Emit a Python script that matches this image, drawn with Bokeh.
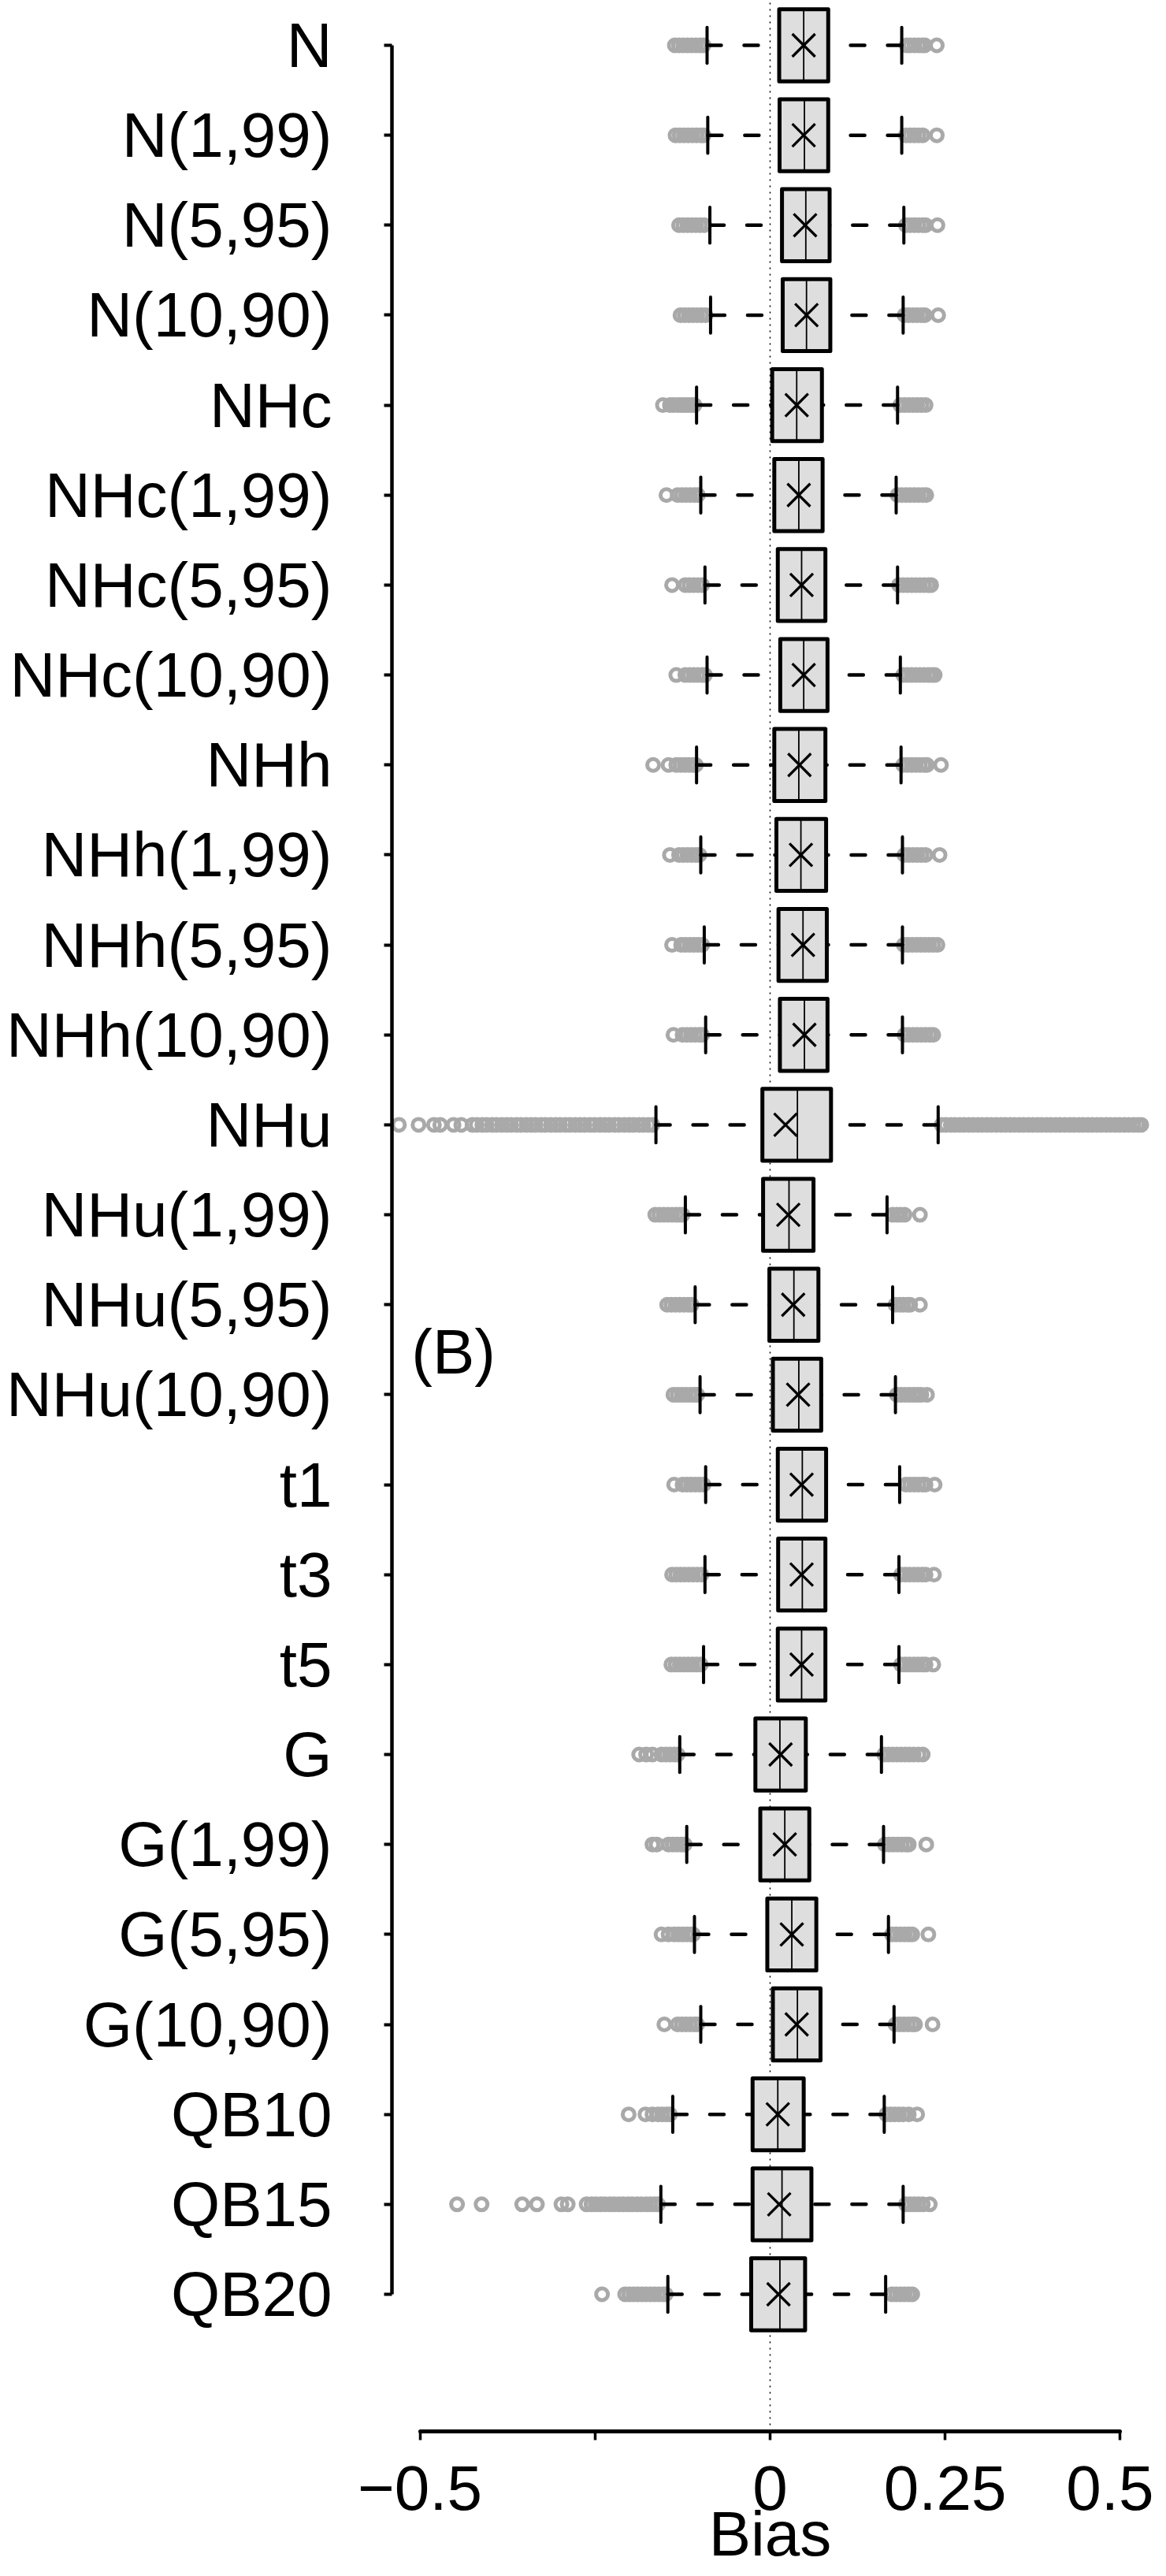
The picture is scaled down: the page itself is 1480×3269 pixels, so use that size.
from bokeh.plotting import figure
from bokeh.models import Range1d, FixedTicker, Label
from bokeh.embed import file_html
from bokeh.resources import INLINE

# ---------------- data (top row first) ----------------
labels = ["N", "N(1,99)", "N(5,95)", "N(10,90)", "NHc", "NHc(1,99)", "NHc(5,95)",
          "NHc(10,90)", "NHh", "NHh(1,99)", "NHh(5,95)", "NHh(10,90)", "NHu",
          "NHu(1,99)", "NHu(5,95)", "NHu(10,90)", "t1", "t3", "t5", "G", "G(1,99)",
          "G(5,95)", "G(10,90)", "QB10", "QB15", "QB20"]

whisker_low = [-0.090, -0.089, -0.086, -0.085, -0.105, -0.099, -0.093, -0.090, -0.105,
               -0.099, -0.094, -0.092, -0.163, -0.121, -0.107, -0.100, -0.092, -0.093,
               -0.095, -0.129, -0.119, -0.108, -0.099, -0.139, -0.156, -0.146]
q1 = [0.013, 0.0135, 0.017, 0.018, 0.003, 0.006, 0.011, 0.0145, 0.006, 0.009, 0.012,
      0.014, -0.011, -0.010, -0.001, 0.004, 0.011, 0.0115, 0.011, -0.021, -0.014,
      -0.004, 0.004, -0.025, -0.025, -0.027]
median = [0.048, 0.049, 0.051, 0.052, 0.038, 0.041, 0.045, 0.048, 0.041, 0.044, 0.047,
          0.049, 0.039, 0.027, 0.034, 0.041, 0.046, 0.046, 0.045, 0.014, 0.021, 0.031,
          0.039, 0.011, 0.017, 0.014]
q3 = [0.083, 0.083, 0.085, 0.086, 0.074, 0.075, 0.079, 0.082, 0.079, 0.080, 0.081,
      0.082, 0.087, 0.062, 0.069, 0.073, 0.080, 0.079, 0.079, 0.051, 0.056, 0.066,
      0.072, 0.048, 0.059, 0.050]
whisker_high = [0.188, 0.188, 0.191, 0.190, 0.182, 0.180, 0.182, 0.186, 0.187, 0.189,
                0.189, 0.189, 0.240, 0.167, 0.175, 0.179, 0.185, 0.184, 0.184, 0.159,
                0.162, 0.169, 0.177, 0.163, 0.190, 0.165]
mean = [0.048, 0.048, 0.050, 0.052, 0.038, 0.041, 0.045, 0.048, 0.042, 0.044, 0.047,
        0.049, 0.022, 0.026, 0.033, 0.040, 0.045, 0.045, 0.045, 0.015, 0.021, 0.031,
        0.038, 0.011, 0.013, 0.012]

outliers_low = [
    [-0.136, -0.130, -0.124, -0.118, -0.112, -0.106, -0.100, -0.095],
    [-0.135, -0.129, -0.123, -0.117, -0.111, -0.105, -0.099, -0.095],
    [-0.130, -0.124, -0.118, -0.112, -0.106, -0.100, -0.094],
    [-0.128, -0.122, -0.116, -0.110, -0.104, -0.098, -0.092],
    [-0.153, -0.143, -0.138, -0.132, -0.127, -0.122, -0.117, -0.112, -0.108],
    [-0.148, -0.132, -0.126, -0.120, -0.114, -0.108, -0.103],
    [-0.140, -0.121, -0.115, -0.109, -0.103, -0.097],
    [-0.134, -0.121, -0.115, -0.109, -0.103, -0.097, -0.093],
    [-0.167, -0.145, -0.134, -0.128, -0.122, -0.116, -0.110, -0.106],
    [-0.143, -0.130, -0.124, -0.118, -0.112, -0.106, -0.101],
    [-0.140, -0.127, -0.121, -0.115, -0.109, -0.103, -0.097],
    [-0.138, -0.125, -0.119, -0.113, -0.107, -0.101, -0.097],
    [-0.530, -0.502, -0.480, -0.471, -0.452, -0.441, -0.425, -0.419, -0.411, -0.405,
     -0.397, -0.391, -0.383, -0.376, -0.370, -0.362, -0.356, -0.348, -0.341, -0.335,
     -0.327, -0.321, -0.313, -0.306, -0.300, -0.292, -0.286, -0.278, -0.271, -0.265,
     -0.257, -0.251, -0.243, -0.236, -0.230, -0.222, -0.216, -0.208, -0.201, -0.195,
     -0.187, -0.181, -0.174, -0.168],
    [-0.164, -0.158, -0.152, -0.146, -0.140, -0.134, -0.129, -0.125],
    [-0.147, -0.141, -0.135, -0.129, -0.123, -0.117, -0.112],
    [-0.138, -0.132, -0.126, -0.120, -0.114, -0.108, -0.104],
    [-0.137, -0.125, -0.119, -0.113, -0.107, -0.101, -0.095],
    [-0.140, -0.134, -0.128, -0.122, -0.116, -0.110, -0.104, -0.098],
    [-0.141, -0.135, -0.129, -0.123, -0.117, -0.111, -0.105, -0.099],
    [-0.187, -0.177, -0.168, -0.155, -0.149, -0.143, -0.137, -0.132],
    [-0.168, -0.162, -0.145, -0.139, -0.133, -0.127, -0.122],
    [-0.155, -0.145, -0.137, -0.131, -0.125, -0.119, -0.113, -0.110],
    [-0.151, -0.132, -0.126, -0.120, -0.114, -0.108, -0.104],
    [-0.202, -0.178, -0.168, -0.160, -0.154, -0.148, -0.143],
    [-0.447, -0.412, -0.354, -0.333, -0.298, -0.289, -0.262, -0.255, -0.249, -0.242,
     -0.236, -0.229, -0.223, -0.216, -0.210, -0.203, -0.197, -0.190, -0.184, -0.177,
     -0.171, -0.165, -0.160],
    [-0.240, -0.207, -0.201, -0.195, -0.189, -0.183, -0.177, -0.171, -0.165, -0.159,
     -0.153, -0.149],
]

outliers_high = [
    [0.195, 0.200, 0.206, 0.212, 0.217, 0.221, 0.238],
    [0.194, 0.200, 0.206, 0.212, 0.218, 0.238],
    [0.194, 0.200, 0.206, 0.212, 0.218, 0.222, 0.239],
    [0.192, 0.198, 0.204, 0.210, 0.216, 0.221, 0.240],
    [0.186, 0.192, 0.198, 0.204, 0.210, 0.216, 0.222],
    [0.182, 0.188, 0.194, 0.200, 0.206, 0.212, 0.218, 0.223],
    [0.184, 0.190, 0.196, 0.202, 0.208, 0.214, 0.220, 0.226, 0.230],
    [0.190, 0.196, 0.202, 0.208, 0.214, 0.220, 0.226, 0.231, 0.235],
    [0.190, 0.196, 0.202, 0.208, 0.214, 0.220, 0.224, 0.244],
    [0.192, 0.198, 0.204, 0.210, 0.216, 0.222, 0.242],
    [0.191, 0.197, 0.203, 0.209, 0.215, 0.221, 0.227, 0.233, 0.239],
    [0.192, 0.198, 0.204, 0.210, 0.216, 0.222, 0.228, 0.233],
    [0.245, 0.251, 0.258, 0.264, 0.271, 0.277, 0.284, 0.290, 0.297, 0.303, 0.310,
     0.316, 0.323, 0.330, 0.336, 0.343, 0.349, 0.356, 0.362, 0.369, 0.375, 0.382,
     0.388, 0.395, 0.401, 0.408, 0.414, 0.421, 0.428, 0.434, 0.441, 0.447, 0.454,
     0.460, 0.467, 0.473, 0.480, 0.486, 0.493, 0.499, 0.506, 0.512, 0.519, 0.525,
     0.530],
    [0.175, 0.181, 0.186, 0.192, 0.214],
    [0.179, 0.185, 0.190, 0.196, 0.200, 0.214],
    [0.181, 0.187, 0.193, 0.199, 0.205, 0.211, 0.216, 0.224],
    [0.194, 0.200, 0.206, 0.212, 0.218, 0.222, 0.235],
    [0.187, 0.193, 0.199, 0.205, 0.211, 0.217, 0.222, 0.234],
    [0.187, 0.193, 0.199, 0.205, 0.211, 0.217, 0.222, 0.233],
    [0.163, 0.169, 0.175, 0.181, 0.187, 0.193, 0.199, 0.205, 0.212, 0.218],
    [0.164, 0.170, 0.176, 0.182, 0.188, 0.194, 0.198, 0.223],
    [0.174, 0.180, 0.186, 0.192, 0.198, 0.203, 0.226],
    [0.179, 0.185, 0.191, 0.197, 0.203, 0.207, 0.232],
    [0.166, 0.172, 0.178, 0.184, 0.190, 0.198, 0.210],
    [0.194, 0.200, 0.206, 0.212, 0.218, 0.228],
    [0.174, 0.180, 0.186, 0.192, 0.198, 0.203],
]

x_ticks = [-0.5, -0.25, 0, 0.25, 0.5]
x_tick_labels = ["\u22120.5", "", "0", "0.25", "0.5"]
x_title = "Bias"
panel_tag = "(B)"

# ---------------- figure ----------------
FONT = "Liberation Sans"
FS = "80px"
n = len(labels)
ypos = [n - 1 - i for i in range(n)]
X_AXIS_AT = -0.54       # where the y axis line sits (data units)
Y_AXIS_AT = -1.524      # where the x axis line sits (data units)
Y_TOP = 25.499
Y_BOTTOM = -3.136
X_LEFT = -1.0991
X_RIGHT = 0.5479

p = figure(width=1464, height=3269, output_backend="svg", toolbar_location=None,
           x_range=Range1d(X_LEFT, X_RIGHT), y_range=Range1d(Y_BOTTOM, Y_TOP),
           min_border_left=0, min_border_right=0, min_border_top=0,
           min_border_bottom=0)
p.outline_line_color = None
p.xgrid.visible = False
p.ygrid.visible = False
p.background_fill_color = "white"
p.border_fill_color = "white"

# zero reference line (from the x axis up to the top)
p.segment(x0=[0], y0=[Y_AXIS_AT], x1=[0], y1=[Y_TOP], line_color="black",
          line_width=1.5, line_dash="2 6")

# outliers
ox, oy = [], []
for i in range(n):
    for v in outliers_low[i] + outliers_high[i]:
        ox.append(v)
        oy.append(ypos[i])
p.scatter(ox, oy, marker="circle", size=15, fill_color=None,
          line_color="#A9A9A9", line_width=5)

# whiskers (dashed, starting at the staple)
p.segment(x0=whisker_low, y0=ypos, x1=q1, y1=ypos, line_color="black",
          line_width=4.5, line_dash="18 29", line_cap="round")
p.segment(x0=whisker_high, y0=ypos, x1=q3, y1=ypos, line_color="black",
          line_width=4.5, line_dash="18 29", line_cap="round")

# staples
ylo = [y - 0.2 for y in ypos]
yhi = [y + 0.2 for y in ypos]
p.segment(x0=whisker_low, y0=ylo, x1=whisker_low, y1=yhi, line_color="black",
          line_width=4, line_cap="round")
p.segment(x0=whisker_high, y0=ylo, x1=whisker_high, y1=yhi, line_color="black",
          line_width=4, line_cap="round")

# boxes
p.quad(left=q1, right=q3, bottom=[y - 0.4 for y in ypos], top=[y + 0.4 for y in ypos],
       fill_color="#DEDEDE", line_color="black", line_width=5, line_join="round")
# medians
p.segment(x0=median, y0=[y - 0.4 for y in ypos], x1=median, y1=[y + 0.4 for y in ypos],
          line_color="black", line_width=1.8)
# means
p.scatter(mean, ypos, marker="x", size=41, line_color="black", line_width=3.3)

# axes
xa = p.xaxis[0]
xa.fixed_location = Y_AXIS_AT
xa.ticker = FixedTicker(ticks=x_ticks)
xa.major_label_overrides = {t: l for t, l in zip(x_ticks, x_tick_labels)}
xa.bounds = (x_ticks[0], x_ticks[-1])
xa.minor_tick_line_color = None
xa.axis_line_width = 5
xa.axis_line_cap = "round"
xa.major_tick_line_width = 3.5
xa.major_tick_out = 11
xa.major_tick_in = 0
xa.major_label_standoff = 34
xa.major_label_text_font = FONT
xa.major_label_text_font_size = FS
xa.major_label_text_color = "black"

ya = p.yaxis[0]
ya.fixed_location = X_AXIS_AT
ya.ticker = FixedTicker(ticks=ypos)
ya.major_label_overrides = {ypos[i]: labels[i] for i in range(n)}
ya.bounds = (0, n - 1)
ya.minor_tick_line_color = None
ya.axis_line_width = 4.5
ya.major_tick_line_width = 4
ya.major_tick_out = 10
ya.major_tick_in = 0
ya.major_label_standoff = 66
ya.major_label_text_font = FONT
ya.major_label_text_font_size = FS
ya.major_label_text_color = "black"

p.add_layout(Label(x=-0.512, y=10.48, text=panel_tag, text_font=FONT,
                   text_font_size=FS, text_align="left",
                   text_baseline="alphabetic", text_color="black"))
p.add_layout(Label(x=0, y=-2.66, text=x_title, text_font=FONT,
                   text_font_size=FS, text_align="center",
                   text_baseline="alphabetic", text_color="black"))

open("out.html", "w").write(file_html(p, INLINE))
